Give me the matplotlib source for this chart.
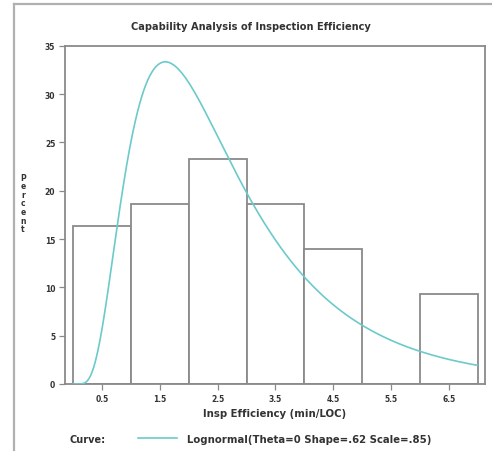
import numpy as np
import matplotlib
matplotlib.use("Agg")
import matplotlib.pyplot as plt
from matplotlib.lines import Line2D

# Data
bin_edges = [0, 1, 2, 3, 4, 5, 6, 7]
bin_percent = [16.3, 18.6, 23.3, 18.6, 14.0, 0.0, 9.3]
xtick_pos = [0.5, 1.5, 2.5, 3.5, 4.5, 5.5, 6.5]
xtick_labels = ["0.5", "1.5", "2.5", "3.5", "4.5", "5.5", "6.5"]
ytick_pos = [0, 5, 10, 15, 20, 25, 30, 35]
# Fitted lognormal parameters (from legend)
theta, shape, scale = 0.0, 0.62, 0.85
bin_width = 1.0

title = "Capability Analysis of Inspection Efficiency"
xlabel = "Insp Efficiency (min/LOC)"
ylabel = "Percent"
legend_text = "Lognormal(Theta=0 Shape=.62 Scale=.85)"

edge_col = "#8a8a8a"
curve_col = "#6ccaca"
txt_col = "#333333"

fig = plt.figure(figsize=(4.92, 4.52), dpi=100)
W, H = 492, 452
ax = fig.add_axes([65 / W, 1 - 385 / H, (485 - 65) / W, (385 - 46.7) / H])

lefts = bin_edges[:-1]
widths = np.diff(bin_edges)
ax.bar(lefts, bin_percent, width=widths, align="edge", facecolor="white",
       edgecolor=edge_col, linewidth=1.3, zorder=2)

xs = np.linspace(0.001, 7, 600)
pdf = np.exp(-((np.log(xs - theta) - scale) ** 2) / (2 * shape ** 2)) / (
    (xs - theta) * shape * np.sqrt(2 * np.pi))
ax.plot(xs, pdf * bin_width * 100, color=curve_col, linewidth=1.2, zorder=3)

ax.set_xlim(-0.144, 7.127)
ax.set_ylim(0, 35)
ax.set_xticks(xtick_pos)
ax.set_xticklabels(xtick_labels)
ax.set_yticks(ytick_pos)
ax.set_yticklabels([str(v) for v in ytick_pos])
ax.tick_params(direction="out", length=4, width=0.9, color=edge_col,
               labelsize=5.5, labelcolor=txt_col, pad=3)
for lab in ax.get_xticklabels() + ax.get_yticklabels():
    lab.set_fontweight("bold")
for s in ax.spines.values():
    s.set_color(edge_col)
    s.set_linewidth(1.3)

ax.set_xlabel(xlabel, fontsize=7.3, fontweight="bold", color=txt_col, labelpad=4)

fig.text(251 / W, 1 - 27 / H, title, ha="center", va="center", fontsize=7.1,
         fontweight="bold", color=txt_col)
fig.text(23 / W, 1 - 204 / H, "\n".join(list(ylabel)), ha="center",
         va="center", fontsize=5.5, fontweight="bold", color=txt_col,
         linespacing=0.95)

# legend row
fig.text(70 / W, 1 - 440 / H, "Curve:", ha="left", va="center", fontsize=7,
         fontweight="bold", color=txt_col)
fig.add_artist(Line2D([138 / W, 177 / W], [1 - 439 / H, 1 - 439 / H],
                      transform=fig.transFigure, color=curve_col, linewidth=1.2))
fig.text(187 / W, 1 - 440 / H, legend_text, ha="left", va="center",
         fontsize=7.3, fontweight="bold", color=txt_col)

# outer frame (left and top)
fig.add_artist(Line2D([14 / W, 14 / W], [0, 1 - 5 / H],
                      transform=fig.transFigure, color="#b0b0b0", linewidth=1.6))
fig.add_artist(Line2D([14 / W, 1], [1 - 5 / H, 1 - 5 / H],
                      transform=fig.transFigure, color="#b0b0b0", linewidth=1.6))

fig.savefig("out.png", dpi=100)
